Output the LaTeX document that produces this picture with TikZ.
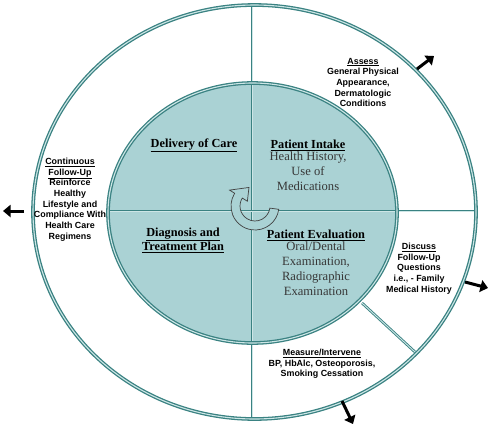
\documentclass[tikz,border=0pt]{standalone}
\usepackage{fontspec}
\setmainfont{Liberation Serif}
\setsansfont{Liberation Sans}
\usetikzlibrary{shapes.geometric,arrows.meta,calc}
\definecolor{tealline}{RGB}{58,130,130}
\definecolor{tealfill}{RGB}{170,210,212}
\definecolor{gaplight}{RGB}{205,230,230}
\definecolor{bodygray}{RGB}{55,55,55}
\tikzset{
  ring/.style={draw=tealline, line width=1.3pt, double=gaplight, double distance=1.1pt},
  divider/.style={draw=tealline, line width=0.9pt, double=gaplight, double distance=0.9pt},
  serifhead/.style={font=\fontsize{12.3}{14.5}\selectfont\bfseries, align=center, text=black, inner sep=0pt},
  serifbody/.style={font=\fontsize{12.6}{14.7}\selectfont, align=center, text=bodygray, inner sep=0pt},
  sanslabel/.style={font=\sffamily\bfseries\fontsize{8.9}{10.7}\selectfont, align=center, text=black, inner sep=0pt},
  outarrow/.style={-{Triangle[length=7.5pt,width=12pt]}, line width=3pt, black},
}
\begin{document}
\begin{tikzpicture}[x=1pt,y=-1pt]
\useasboundingbox (0,0) rectangle (489,426);
% ellipses (fill first)
\node[ellipse, minimum width=443pt, minimum height=414pt, inner sep=0pt] (outer) at (254.5,212) {};
\node[ellipse, fill=tealfill, minimum width=289pt, minimum height=260pt, inner sep=0pt] (inner) at (252.5,213) {};
% named points for dividers
\coordinate (vtop) at (252,5);
\coordinate (vbot) at (252,419);
\coordinate (hleft) at (108.5,211);
\coordinate (hright) at (476,211);
\coordinate (dinner) at (362,303);
\coordinate (douter) at (415,352);
\draw[divider] (vtop) -- (vbot);
\draw[divider] (hleft) -- (hright);
\draw[divider] (dinner) -- (douter);
% ring outlines on top
\draw[ring] (outer.center) ellipse [x radius=221.5, y radius=207];
\draw[ring] (inner.center) ellipse [x radius=144.5, y radius=130];
% circular arrow
\coordinate (cc) at (255,206);
\path[draw=black!75, line width=0.7pt, fill=tealfill]
  ($(cc)+(8:24)$) arc[start angle=8, end angle=212, radius=24]
  -- ($(cc)+(212:30)$) -- ($(cc)+(252:19.5)$) -- ($(cc)+(212:9)$)
  -- ($(cc)+(212:15)$) arc[start angle=212, end angle=8, radius=15] -- cycle;
% inner texts
\node[serifhead] (doc) at (194,145) {\underline{Delivery of Care}};
\node[serifhead] (pih) at (308,145) {\underline{Patient Intake}};
\node[serifbody, anchor=north] (pib) at (308,152) {Health History,\\Use of\\Medications};
\node[serifhead] (dtp1) at (183,234.5) {\underline{Diagnosis and}};
\node[serifhead] (dtp2) at (183,247) {\underline{Treatment Plan}};
\node[serifhead] (peh) at (316,235) {\underline{Patient Evaluation}};
\node[serifbody, anchor=north] (peb) at (316,242) {Oral/Dental\\Examination,\\Radiographic\\Examination};
% outer texts
\node[sanslabel] (assess) at (363,82.5) {\underline{Assess}\\General Physical\\Appearance,\\Dermatologic\\Conditions};
\node[sanslabel] (cont) at (70,199.5) {\underline{Continuous}\\\underline{Follow-Up}\\Reinforce\\Healthy\\Lifestyle and\\Compliance With\\Health Care\\Regimens};
\node[sanslabel] (disc) at (419,268.5) {\underline{Discuss}\\Follow-Up\\Questions\\i.e., - Family\\Medical History};
\node[sanslabel] (meas) at (322,364) {\underline{Measure/Intervene}\\BP, HbAlc, Osteoporosis,\\Smoking Cessation};
% outward arrows
\coordinate (a1s) at (417,69); \coordinate (a1e) at (434,56);
\coordinate (a2s) at (24,211); \coordinate (a2e) at (3,211);
\coordinate (a3s) at (465,282); \coordinate (a3e) at (488,288);
\coordinate (a4s) at (342,401); \coordinate (a4e) at (353,424);
\draw[outarrow] (a1s) -- (a1e);
\draw[outarrow] (a2s) -- (a2e);
\draw[outarrow] (a3s) -- (a3e);
\draw[outarrow] (a4s) -- (a4e);
\end{tikzpicture}
\end{document}
